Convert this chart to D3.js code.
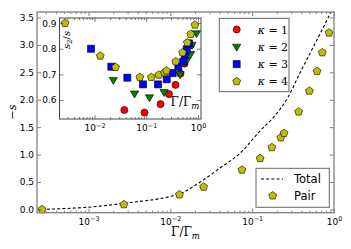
<!DOCTYPE html>
<html><head><meta charset="utf-8">
<script src="https://d3js.org/d3.v7.min.js"></script>
<style>body{margin:0;background:#fff}svg{display:block}</style>
</head><body><svg id="c" width="351" height="249"></svg>
<script>
// ---- data ----
const gamma = [2.7e-4, 2.7e-3, 0.0129, 0.0255, 0.075, 0.125, 0.174, 0.224, 0.245, 0.37, 0.50, 0.62, 0.72, 0.87];
const pair = [0.0, 0.09, 0.27, 0.41, 0.72, 0.93, 1.13, 1.31, 1.39, 1.78, 2.16, 2.52, 2.86, 3.22];
const totalGamma = [2.67e-4, 1.39e-3, 2.65e-3, 0.0132, 0.0232, 0.0408, 0.0718, 0.126, 0.182, 0.27, 0.39, 0.594, 0.95];
const totalS = [0.0, 0.06, 0.11, 0.29, 0.50, 0.76, 1.03, 1.44, 1.68, 2.03, 2.51, 3.04, 3.64];
const k1Gamma = [0.0376, 0.0923, 0.188, 0.274, 0.366, 0.457, 0.546, 0.729];
const k1 = [0.561, 0.551, 0.584, 0.623, 0.659, 0.703, 0.742, 0.815];
const k2Gamma = [0.0231, 0.0592, 0.115, 0.220, 0.448, 0.611, 0.72, 0.763, 0.931];
const k2 = [0.678, 0.625, 0.610, 0.631, 0.70, 0.756, 0.78, 0.815, 0.86];
const k3Gamma = [0.00855, 0.0211, 0.043, 0.0863, 0.168, 0.248, 0.323, 0.415, 0.518, 0.559, 0.603, 0.667];
const k3 = [0.80, 0.73, 0.687, 0.661, 0.661, 0.681, 0.705, 0.730, 0.75, 0.776, 0.798, 0.821];
const k4Gamma = gamma.slice(1);
const k4 = [0.90, 0.772, 0.728, 0.689, 0.689, 0.698, 0.707, 0.714, 0.75, 0.785, 0.824, 0.857, 0.893];
const mainYTicks = [0, 0.5, 1, 1.5, 2, 2.5, 3, 3.5];
const mainXTicks = [1e-3, 1e-2, 1e-1, 1];
const insetYTicks = [0.6, 0.7, 0.8, 0.9];
const insetXTicks = [1e-2, 1e-1, 1];
const kappaLabels = ["1", "2", "3", "4"];

const svg = d3.select("#c");
const SANS = "DejaVu Sans", SERIF = "DejaVu Serif";
const C = {r:"#ff0000", g:"#008000", b:"#0000ff", y:"#bfbf00"};

// custom symbols
const pentagon = {draw(ctx, size){ const r=Math.sqrt(size); for(let i=0;i<5;i++){const a=-Math.PI/2+i*2*Math.PI/5; const px=r*Math.cos(a), py=r*Math.sin(a); i?ctx.lineTo(px,py):ctx.moveTo(px,py);} ctx.closePath(); }};
const triDown = {draw(ctx, size){ const r=Math.sqrt(size); ctx.moveTo(0,r); ctx.lineTo(-r*0.95,-r*0.6); ctx.lineTo(r*0.95,-r*0.6); ctx.closePath(); }};
const square = {draw(ctx,size){const h=Math.sqrt(size); ctx.rect(-h,-h,2*h,2*h);}};
const circle = {draw(ctx,size){const r=Math.sqrt(size); ctx.moveTo(r,0); ctx.arc(0,0,r,0,2*Math.PI);}};

function sup(sel, base, exp, size){
  sel.text(null);
  sel.append("tspan").text(base);
  sel.append("tspan").attr("dy", -size*0.38).attr("font-size", size*0.72).text(exp);
}
function logTickFmt(d){ const e=Math.round(Math.log10(d)); return e===0?"0":"\u2212"+(-e); }
function minorTicks(domain){ const out=[]; const lo=Math.floor(Math.log10(domain[0])), hi=Math.ceil(Math.log10(domain[1])); for(let e=lo;e<hi;e++) for(let m=2;m<=9;m++){const v=m*10**e; if(v>=domain[0]&&v<=domain[1]) out.push(v);} return out; }

function drawAxes(g, x, y, xt, yt, box, fs, opts){
  const [L,R,T,B] = box;
  // bottom
  const ax = d3.axisBottom(x).tickValues(xt).tickSize(-4).tickPadding(4).tickFormat(()=>"");
  const gb = g.append("g").attr("transform",`translate(0,${B})`).call(ax);
  gb.selectAll(".tick text").each(function(d){ sup(d3.select(this), "10", logTickFmt(d), fs); }).attr("font-family",SANS).attr("font-size",fs).attr("fill","#000").attr("dy","0.9em");
  g.append("g").attr("transform",`translate(0,${B})`).call(d3.axisBottom(x).tickValues(minorTicks(x.domain())).tickSize(-2).tickFormat(""));
  g.append("g").attr("transform",`translate(0,${T})`).call(d3.axisTop(x).tickValues(xt).tickSize(-4).tickFormat(""));
  g.append("g").attr("transform",`translate(0,${T})`).call(d3.axisTop(x).tickValues(minorTicks(x.domain())).tickSize(-2).tickFormat(""));
  const gl = g.append("g").attr("transform",`translate(${L},0)`).call(d3.axisLeft(y).tickValues(yt).tickSize(-4).tickPadding(3).tickFormat(d3.format(".1f")));
  gl.selectAll(".tick text").attr("font-family",SANS).attr("font-size",fs).attr("fill","#000");
  g.append("g").attr("transform",`translate(${R},0)`).call(d3.axisRight(y).tickValues(yt).tickSize(-4).tickFormat(""));
  g.selectAll(".domain").remove();
  g.selectAll(".tick line").attr("stroke","#444").attr("stroke-width",0.7);
  g.append("rect").attr("x",L).attr("y",T).attr("width",R-L).attr("height",B-T).attr("fill","none").attr("stroke",opts.spine).attr("stroke-width",opts.sw);
}

// ---- main axes ----
const mL=37, mR=334, mT=12, mB=212.7;
const x = d3.scaleLog().domain([10**-3.63, 1]).range([mL, mR]);
const y = d3.scaleLinear().domain([-0.06, 3.6]).range([mB, mT]);
const gm = svg.append("g");
svg.append("defs").append("clipPath").attr("id","mclip").append("rect").attr("x",mL).attr("y",mT).attr("width",mR-mL).attr("height",mB-mT);

const totalData = totalGamma.map((g,i)=>[g,totalS[i]]);
gm.append("path").attr("clip-path","url(#mclip)").attr("d", d3.line().x(d=>x(d[0])).y(d=>y(d[1])).curve(d3.curveMonotoneX)(totalData))
  .attr("fill","none").attr("stroke","#000").attr("stroke-width",1.1).attr("stroke-dasharray","3,2.2");

const sym = (type, s) => d3.symbol().type(type).size(s);
gm.selectAll(".pair").data(gamma.map((g,i)=>[g,pair[i]])).join("path")
  .attr("transform",d=>`translate(${x(d[0])},${y(d[1])})`).attr("d", sym(pentagon,17)())
  .attr("fill",C.y).attr("stroke","#000").attr("stroke-width",0.6);

drawAxes(gm, x, y, mainXTicks, mainYTicks, [mL,mR,mT,mB], 9, {spine:"#888", sw:1.4});

// main labels
const xl = svg.append("text").attr("x",185.5).attr("y",236).attr("text-anchor","middle").attr("font-family",SERIF).attr("font-size",12);
xl.append("tspan").text("\u0393/\u0393");
xl.append("tspan").attr("font-style","italic").attr("font-size",8.5).attr("dy",2.5).text("m");
const yl = svg.append("text").attr("transform","translate(16,112) rotate(-90)").attr("text-anchor","middle").attr("font-family",SERIF).attr("font-size",11.5);
yl.append("tspan").text("\u2212");
yl.append("tspan").attr("font-style","italic").text("s");

// ---- inset ----
const iL=59.5, iR=201, iT=18, iB=119;
const xi = d3.scaleLog().domain([10**-2.676, 10**0.056]).range([iL, iR]);
const yi = d3.scaleLinear().domain([0.526, 0.92]).range([iB, iT]);
const gi = svg.append("g");
gi.append("rect").attr("x",iL).attr("y",iT).attr("width",iR-iL).attr("height",iB-iT).attr("fill","#fff");
const series = [
  {g:k1Gamma, v:k1, type:circle, size:12.5, c:C.r},
  {g:k2Gamma, v:k2, type:triDown, size:19, c:C.g},
  {g:k3Gamma, v:k3, type:square, size:12.5, c:C.b},
  {g:k4Gamma, v:k4, type:pentagon, size:17, c:C.y}
];
series.forEach(s=>{
  gi.selectAll(null).data(s.g.map((g,i)=>[g,s.v[i]])).join("path")
    .attr("transform",d=>`translate(${xi(d[0])},${yi(d[1])})`).attr("d", sym(s.type,s.size)())
    .attr("fill",s.c).attr("stroke","#000").attr("stroke-width",0.6);
});
drawAxes(gi, xi, yi, insetXTicks, insetYTicks, [iL,iR,iT,iB], 9, {spine:"#444", sw:1});
const ixl = gi.append("text").attr("x",185).attr("y",106).attr("text-anchor","middle").attr("font-family",SERIF).attr("font-size",12);
ixl.append("tspan").text("\u0393/\u0393");
ixl.append("tspan").attr("font-style","italic").attr("font-size",8.5).attr("dy",2.5).text("m");
const iyl = gi.append("text").attr("transform","translate(70,40) rotate(-90)").attr("text-anchor","middle").attr("font-family",SERIF).attr("font-size",10);
iyl.append("tspan").attr("font-style","italic").text("s");
iyl.append("tspan").attr("font-size",7).attr("dy",2).text("2");
iyl.append("tspan").attr("dy",-2).text("/");
iyl.append("tspan").attr("font-style","italic").text("s");

// ---- kappa legend ----
const lg = svg.append("g");
lg.append("rect").attr("x",219.3).attr("y",18.3).attr("width",69.7).attr("height",73.4).attr("fill","#fff").attr("stroke","#666").attr("stroke-width",1);
series.forEach((s,i)=>{
  const cy = 29.5 + i*17.3;
  lg.append("path").attr("transform",`translate(236.7,${cy})`).attr("d", sym(s.type,s.size)()).attr("fill",s.c).attr("stroke","#000").attr("stroke-width",0.6);
  const t = lg.append("text").attr("x",257.7).attr("y",cy+4).attr("font-family",SERIF).attr("font-size",11);
  t.append("tspan").attr("font-style","italic").text("\u03BA");
  t.append("tspan").text(" = " + kappaLabels[i]);
});

// ---- main legend ----
const lm = svg.append("g");
lm.append("rect").attr("x",256).attr("y",168.3).attr("width",73.3).attr("height",39).attr("fill","#fff").attr("stroke","#666").attr("stroke-width",1);
lm.append("line").attr("x1",261).attr("x2",283).attr("y1",179).attr("y2",179).attr("stroke","#000").attr("stroke-width",1.1).attr("stroke-dasharray","3,2.2");
lm.append("text").attr("x",294).attr("y",183).attr("font-family",SANS).attr("font-size",11.5).text("Total");
lm.append("path").attr("transform","translate(272.7,195.7)").attr("d", sym(pentagon,17)()).attr("fill",C.y).attr("stroke","#000").attr("stroke-width",0.6);
lm.append("text").attr("x",294).attr("y",200).attr("font-family",SANS).attr("font-size",11.5).text("Pair");
</script></body></html>
